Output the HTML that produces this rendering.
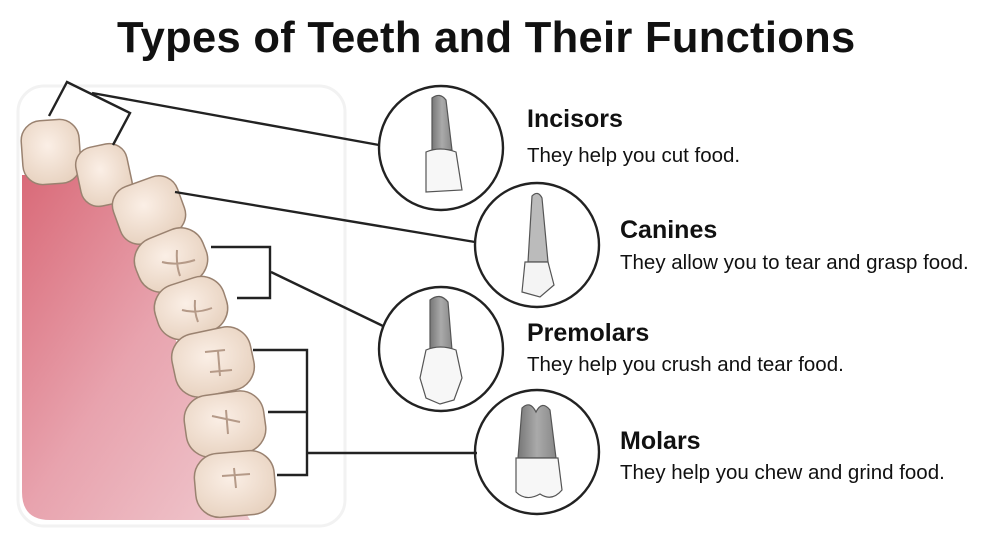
<!DOCTYPE html>
<html><head><meta charset="utf-8"><style>
body{margin:0;width:1000px;height:556px;background:#fff;overflow:hidden;position:relative;font-family:"Liberation Sans",sans-serif}
.t{position:absolute;white-space:nowrap;color:#111}
.h{font-weight:bold;font-size:25px}
.d{font-size:20.5px}
</style></head><body>
<div class="t" style="left:117px;top:14px;font-size:43.5px;font-weight:bold;letter-spacing:0.3px">Types of Teeth and Their Functions</div>
<svg width="1000" height="556" style="position:absolute;left:0;top:0">
<defs>
<linearGradient id="pk" x1="0" y1="0" x2="1" y2="1">
<stop offset="0" stop-color="#d96a78"/><stop offset="0.5" stop-color="#e8a3ae"/><stop offset="1" stop-color="#f0c9cf"/></linearGradient>
<radialGradient id="tg" cx="0.45" cy="0.4" r="0.7"><stop offset="0" stop-color="#fbefe6"/><stop offset="1" stop-color="#e6d0bd"/></radialGradient>
<linearGradient id="root" x1="0" x2="1"><stop offset="0" stop-color="#777"/><stop offset="0.5" stop-color="#aaa"/><stop offset="1" stop-color="#888"/></linearGradient>
</defs>
<rect x="18" y="86" width="327" height="440" rx="26" fill="none" stroke="#f2f2f2" stroke-width="3"/>
<path d="M22 175 L120 175 C170 300 190 420 250 520 L50 520 Q22 520 22 492 Z" fill="url(#pk)"/>
<g stroke="#9a8270" stroke-width="1.5" fill="url(#tg)">
<rect x="22" y="120" width="58" height="64" rx="20" transform="rotate(-4 51 152)"/>
<rect x="78" y="145" width="52" height="60" rx="18" transform="rotate(-12 104 175)"/>
<rect x="115" y="180" width="68" height="60" rx="20" transform="rotate(-20 149 210)"/>
<rect x="135" y="232" width="72" height="56" rx="24" transform="rotate(-22 171 260)"/>
<rect x="155" y="280" width="72" height="56" rx="24" transform="rotate(-18 191 308)"/>
<rect x="173" y="330" width="80" height="64" rx="24" transform="rotate(-12 213 362)"/>
<rect x="185" y="393" width="80" height="62" rx="24" transform="rotate(-8 225 424)"/>
<rect x="195" y="452" width="80" height="64" rx="24" transform="rotate(-5 235 484)"/>
</g>
<g stroke="#b59a88" stroke-width="2" fill="none">
<path d="M177 250 Q176 265 180 276 M162 262 Q177 266 195 260"/>
<path d="M195 300 Q194 312 198 322 M182 310 Q196 314 212 308"/>
<path d="M205 352 L225 350 M218 351 L220 376 M210 372 L232 370"/>
<path d="M212 416 L240 422 M226 410 L228 434"/>
<path d="M222 476 L250 474 M234 468 L236 488"/>
</g>
<g stroke="#222" stroke-width="2.4" fill="none">
<polyline points="49,116 67,82 130,113 113,145"/>
<line x1="92" y1="93" x2="379" y2="145"/>
<line x1="175" y1="192" x2="475" y2="242"/>
<polyline points="211,247 270,247 270,298 237,298"/>
<line x1="271" y1="272" x2="383" y2="326"/>
<polyline points="253,350 307,350 307,475 277,475"/>
<line x1="268" y1="412" x2="307" y2="412"/>
<line x1="307" y1="453" x2="477" y2="453"/>
<circle cx="441" cy="148" r="62"/>
<circle cx="537" cy="245" r="62"/>
<circle cx="441" cy="349" r="62"/>
<circle cx="537" cy="452" r="62"/>
</g>
<g stroke="#555" stroke-width="1.2">
<path d="M432 98 Q440 92 446 100 L452 150 L432 150 Z" fill="url(#root)"/>
<path d="M426 152 Q440 146 456 152 L462 190 L426 192 Z" fill="#f7f7f7"/>
<path d="M532 196 Q538 190 542 198 L548 262 L528 262 Z" fill="#bbb"/>
<path d="M525 262 L548 262 L554 285 L540 297 L522 292 Z" fill="#f4f4f4"/>
<path d="M430 300 Q440 292 448 302 L452 350 L430 350 Z" fill="url(#root)"/>
<path d="M426 350 Q440 344 456 350 L462 378 L454 400 L440 404 L426 398 L420 378 Z" fill="#f7f7f7"/>
<path d="M522 408 Q530 400 536 412 Q542 400 550 410 L556 458 L518 458 Z" fill="url(#root)"/>
<path d="M516 458 L558 458 L562 490 Q552 502 540 494 Q526 502 516 492 Z" fill="#f7f7f7"/>
</g>
</svg>
<div class="t h" style="left:527px;top:105px">Incisors</div>
<div class="t d" style="left:527px;top:144px">They help you cut food.</div>
<div class="t h" style="left:620px;top:216px">Canines</div>
<div class="t d" style="left:620px;top:251px">They allow you to tear and grasp food.</div>
<div class="t h" style="left:527px;top:319px">Premolars</div>
<div class="t d" style="left:527px;top:353px">They help you crush and tear food.</div>
<div class="t h" style="left:620px;top:427px">Molars</div>
<div class="t d" style="left:620px;top:461px">They help you chew and grind food.</div>
</body></html>
